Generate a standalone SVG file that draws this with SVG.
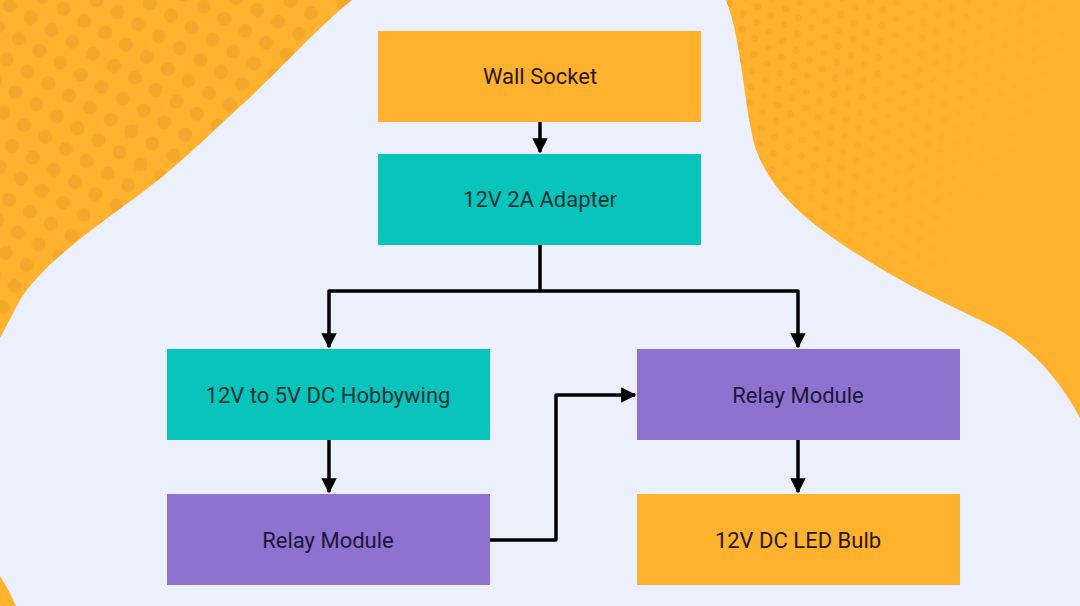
<svg xmlns="http://www.w3.org/2000/svg" width="1080" height="606" viewBox="0 0 1080 606">
<style>
.box{stroke:none}
.lbl{font-family:Roboto,"Liberation Sans",sans-serif;font-size:22px;text-anchor:middle;dominant-baseline:central}
.wire{fill:none;stroke:#000;stroke-width:3.5;stroke-linejoin:round}
</style>
<defs>
<pattern id="dotsL" width="34" height="34" patternUnits="userSpaceOnUse" patternTransform="rotate(-15)">
<circle cx="8" cy="8" r="7" fill="#EDA52B" opacity="0.8"/>
<circle cx="25" cy="25" r="7" fill="#EDA52B" opacity="0.8"/>
</pattern>
<pattern id="dotsR" width="16" height="28" patternUnits="userSpaceOnUse" patternTransform="rotate(-25)">
<circle cx="4" cy="4" r="3.5" fill="#EFA528"/>
<circle cx="12" cy="18" r="3.5" fill="#EFA528"/>
</pattern>
<linearGradient id="fadeR" x1="0" y1="0" x2="1" y2="0.6">
<stop offset="0" stop-color="#fff" stop-opacity="0.9"/>
<stop offset="0.55" stop-color="#fff" stop-opacity="0.2"/>
<stop offset="0.8" stop-color="#fff" stop-opacity="0"/>
</linearGradient>
<mask id="maskR"><rect x="720" y="0" width="360" height="420" fill="url(#fadeR)"/></mask>
<marker id="arr" viewBox="0 0 10 10" refX="9" refY="5" markerWidth="4.4" markerHeight="4.4" orient="auto" markerUnits="strokeWidth">
<path d="M0,0 L10,5 L0,10 Z" fill="#000"/>
</marker>
</defs>
<rect width="1080" height="606" fill="#ECEFFC"/>
<g id="background">
<path id="blobL" d="M0,0 L352,0 C320,25 285,65 245,102 C205,138 175,170 125,205 C85,235 42,265 20,300 L0,338 Z" fill="#FFB22E"/>
<path d="M0,0 L352,0 C320,25 285,65 245,102 C205,138 175,170 125,205 C85,235 42,265 20,300 L0,338 Z" fill="url(#dotsL)"/>
<path id="blobR" d="M726,0 L1080,0 L1080,418 C1060,380 1030,345 990,325 C960,310 925,295 880,268 C820,232 775,200 756,150 C744,110 742,40 726,0 Z" fill="#FFB22E"/>
<path d="M726,0 L1080,0 L1080,418 C1060,380 1030,345 990,325 C960,310 925,295 880,268 C820,232 775,200 756,150 C744,110 742,40 726,0 Z" fill="url(#dotsR)" mask="url(#maskR)"/>
<path id="blobBL" d="M0,576 C6,585 11,595 16,606 L0,606 Z" fill="#FFB22E"/>
</g>
<g id="connectors">
<path class="wire" d="M540,122 L540,152" marker-end="url(#arr)"/>
<path class="wire" d="M540,245 L540,291 L329,291 L329,347" marker-end="url(#arr)"/>
<path class="wire" d="M540,291 L798,291 L798,347" marker-end="url(#arr)"/>
<path class="wire" d="M329,440 L329,492" marker-end="url(#arr)"/>
<path class="wire" d="M798,440 L798,492" marker-end="url(#arr)"/>
<path class="wire" d="M490,540 L556,540 L556,395 L635,395" marker-end="url(#arr)"/>
</g>
<g id="wall-socket">
<rect class="box" x="378" y="31" width="323" height="91" fill="#FFB22E"/>
<text class="lbl" x="540" y="76" fill="#2A1606">Wall Socket</text>
</g>
<g id="adapter">
<rect class="box" x="378" y="154" width="323" height="91" fill="#08C4BA"/>
<text class="lbl" x="540" y="199" fill="#0C3438">12V 2A Adapter</text>
</g>
<g id="hobbywing">
<rect class="box" x="167" y="349" width="323" height="91" fill="#08C4BA"/>
<text class="lbl" x="328" y="395" fill="#0C3438">12V to 5V DC Hobbywing</text>
</g>
<g id="relay-left">
<rect class="box" x="167" y="494" width="323" height="91" fill="#8E72D0"/>
<text class="lbl" x="328" y="540" fill="#1E163A">Relay Module</text>
</g>
<g id="relay-right">
<rect class="box" x="637" y="349" width="323" height="91" fill="#8E72D0"/>
<text class="lbl" x="798" y="395" fill="#1E163A">Relay Module</text>
</g>
<g id="led-bulb">
<rect class="box" x="637" y="494" width="323" height="91" fill="#FFB22E"/>
<text class="lbl" x="798" y="540" fill="#2A1606">12V DC LED Bulb</text>
</g>
</svg>
